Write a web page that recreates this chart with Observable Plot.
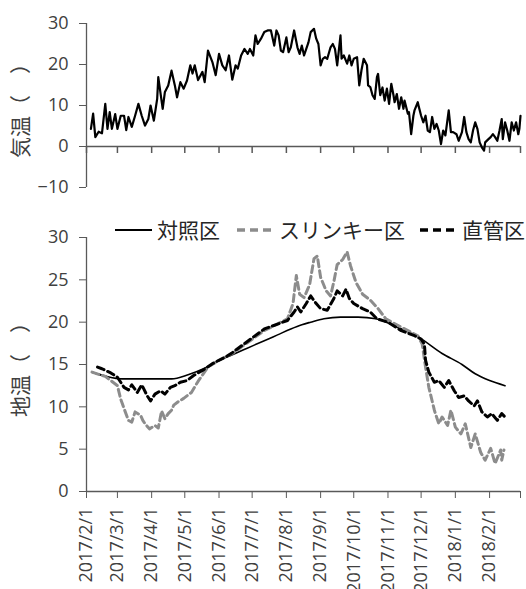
<!DOCTYPE html>
<html><head><meta charset="utf-8">
<script src="https://cdn.jsdelivr.net/npm/d3@7"></script>
<script src="https://cdn.jsdelivr.net/npm/@observablehq/plot@0.6"></script>
<style>
body{margin:0;background:#fff;font-family:"Open Sans","Noto Sans CJK JP",sans-serif;}
#wrap{position:relative;width:526px;height:589px;overflow:hidden;}
svg{display:block;}
#legend{position:absolute;top:219px;left:115px;display:flex;align-items:center;font-family:"Noto Sans CJK JP",sans-serif;font-size:21px;color:#262626;white-space:nowrap;line-height:1;}
.item{display:flex;align-items:center;}
.item span{margin-left:5px;}
[aria-label="y-axis label"] text{font-family:"Noto Sans CJK JP",sans-serif;font-size:21px;}
</style></head><body><div id="wrap"><div id="legend"></div></div>
<script>
// ---- data ----
const startDate = "2017-02-01";
const endDate = "2018-03-01";
const xTickDates = ["2017-02-01","2017-03-01","2017-04-01","2017-05-01","2017-06-01","2017-07-01","2017-08-01","2017-09-01","2017-10-01","2017-11-01","2017-12-01","2018-01-01","2018-02-01","2018-03-01"];
const xTickLabels = ["2017/2/1","2017/3/1","2017/4/1","2017/5/1","2017/6/1","2017/7/1","2017/8/1","2017/9/1","2017/10/1","2017/11/1","2017/12/1","2018/1/1","2018/2/1",""];
const seriesNames = ["対照区","スリンキー区","直管区"];
const airLabel = "気温（　）";
const soilLabel = "地温（　）";

// air temperature: day offset from startDate, value
const airDay = [4,6,8,11,14,17,19,21,23,26,28,31,34,36,38,41,44,47,50,53,56,58,61,64,65,69,71,74,77,80,82,85,88,91,94,96,98,101,105,107,110,114,117,120,123,126,129,132,135,137,140,143,146,148,151,153,155,158,161,164,167,170,172,174,176,178,181,183,185,188,191,193,195,197,199,201,203,206,208,210,212,214,216,218,221,223,225,227,230,231,233,236,238,240,242,245,247,249,251,254,255,257,259,261,263,264,266,268,270,272,274,276,278,279,281,283,285,287,288,291,292,294,296,297,300,301,303,305,307,309,311,313,315,317,319,321,323,325,328,330,332,335,337,340,342,344,346,348,350,352,354,356,358,360,361,364,366,368,370,372,374,376,377,379,381,383,385,387,389,391,392,393];
const airTemp = [4.3,8.0,2.3,3.6,3.2,10.4,4.3,8.4,4.3,7.9,4.3,7.5,7.5,4.0,7.2,4.8,7.5,10.4,7.5,5.1,6.7,10.0,6.3,11.6,16.9,9.2,13.3,14.9,18.5,14.9,12.0,15.7,14.1,16.1,19.8,17.8,19.8,16.2,18.2,15.7,23.4,20.6,17.4,22.6,19.8,18.6,22.2,16.3,19.8,19.0,22.2,23.8,22.6,23.8,22.2,27.1,25.0,26.3,27.9,28.3,28.3,24.6,28.3,27.1,23.4,23.0,26.6,23.0,24.2,28.3,24.2,22.6,24.6,22.2,23.8,25.4,27.9,28.7,26.3,25.0,19.8,21.4,21.8,21.4,24.2,25.0,23.8,19.8,27.1,21.4,22.2,20.2,22.2,19.8,21.4,21.8,14.9,18.6,21.4,19.8,14.9,14.5,12.5,11.6,16.9,17.7,12.5,14.4,11.2,14.1,10.4,15.3,12.5,10.8,12.8,9.2,12.0,9.2,11.2,8.0,8.4,3.0,7.5,8.8,10.8,9.6,7.5,5.9,7.5,3.9,3.5,7.2,4.3,5.5,3.9,0.6,3.9,2.7,8.8,3.5,3.5,3.0,1.4,3.5,7.2,3.5,1.8,1.0,3.9,5.9,4.3,1.0,-0.2,-1.0,1.0,1.8,2.3,3.0,2.3,1.4,3.9,6.7,1.8,5.9,3.9,1.4,5.9,3.9,5.9,3.0,4.3,7.5];

// soil temperature: 対照区
const ctrlDay = [5,18,32,77,92,106,116,131,145,161,173,185,195,203,215,230,246,262,280,301,322,340,352,365,379];
const ctrlTemp = [14.1,13.6,13.3,13.3,13.8,14.5,15.2,16.1,16.9,17.8,18.5,19.2,19.7,20.0,20.4,20.6,20.6,20.4,19.5,18.2,16.3,15.0,13.9,13.1,12.5];
// スリンキー区
const slinkyDay = [5,12,17,28,31,34,38,41,44,49,51,53,57,62,65,68,71,74,77,79,83,88,92,95,101,110,120,132,161,182,187,190,193,197,202,206,209,212,217,221,224,227,232,236,239,244,250,257,264,271,285,300,304,307,310,315,319,322,327,330,334,339,343,348,352,357,361,366,370,375,376,378];
const slinkyTemp = [14.1,13.8,13.6,12.5,10.9,9.8,8.4,8.2,9.4,9.0,8.4,8.0,7.4,7.8,7.5,9.5,8.6,9.2,9.6,10.2,10.6,11.0,11.4,11.7,13.0,14.7,15.5,16.3,19.0,20.4,22.2,25.5,23.3,22.9,24.4,27.5,27.8,25.3,23.7,23.1,24.8,26.8,27.4,28.3,26.7,24.7,23.3,22.6,21.6,20.4,19.4,18.4,17.4,14.7,12.3,9.6,8.0,8.8,7.8,9.6,7.6,6.8,8.0,5.2,6.8,4.6,3.7,5.1,3.3,4.9,3.7,4.9];
// 直管区
const pipeDay = [10,14,22,28,34,38,41,46,50,55,58,62,67,71,76,80,85,91,97,105,114,126,132,161,182,188,191,194,199,203,208,212,218,224,227,232,235,238,242,250,257,263,273,285,297,303,306,307,310,315,319,324,328,333,337,342,346,351,354,358,363,367,372,376,379];
const pipeTemp = [14.7,14.5,14.0,13.5,12.3,12.0,12.6,11.7,12.6,11.3,10.7,11.5,11.9,11.5,12.3,12.5,12.9,13.1,13.7,14.3,15.1,15.9,16.4,19.2,20.2,21.2,21.8,21.2,22.2,23.1,22.2,21.6,21.4,22.8,23.7,23.1,23.9,22.8,22.2,21.6,21.2,20.4,20.0,19.0,18.4,18.0,17.4,15.5,14.1,12.9,13.1,12.3,13.1,11.9,11.1,11.3,10.7,10.1,10.7,9.4,8.8,9.2,8.4,9.2,8.8];

// ---- build ----
const t0 = new Date(startDate + "T00:00:00Z");
const toRows = (days, vals) => days.map((d, i) => ({date: d3.utcDay.offset(t0, d), value: vals[i]}));
const air = toRows(airDay, airTemp);
const ctrl = toRows(ctrlDay, ctrlTemp);
const slinky = toRows(slinkyDay, slinkyTemp);
const pipe = toRows(pipeDay, pipeTemp);
const monthTicks = xTickDates.map(s => new Date(s + "T00:00:00Z"));
const labelMap = new Map(monthTicks.map((t, i) => [+t, xTickLabels[i]]));
const xDomain = [t0, new Date(endDate + "T00:00:00Z")];

const axisColor = "#595959";
const textColor = "#404040";
const W = 526, ML = 86, MR = 6;
const baseStyle = {fontFamily: '"Open Sans","Noto Sans CJK JP",sans-serif', fontSize: "18px", color: textColor, background: "transparent", overflow: "visible"};

const airChart = Plot.plot({
  width: W, height: 205, marginLeft: ML, marginRight: MR, marginTop: 23, marginBottom: 18,
  style: baseStyle,
  x: {type: "utc", domain: xDomain, axis: null},
  y: {domain: [-10, 30]},
  marks: [
    Plot.ruleX([t0], {stroke: axisColor, strokeWidth: 1.3}),
    Plot.ruleY([0], {stroke: axisColor, strokeWidth: 1.3}),
    // 7px downward month ticks on the zero line
    Plot.ruleX(monthTicks, {x: d => d, y1: 0, y2: 0, insetTop: 7, stroke: axisColor, strokeWidth: 1.5}),
    Plot.axisY({ticks: [-10, 0, 10, 20, 30], tickSize: 7, tickPadding: 11, stroke: axisColor, label: airLabel, labelAnchor: "center", labelArrow: "none", labelOffset: 73}),
    Plot.line(air, {x: "date", y: "value", stroke: "#000", strokeWidth: 2.2, strokeLinejoin: "round"})
  ]
});

const soilChart = Plot.plot({
  width: W, height: 384, marginLeft: ML, marginRight: MR, marginTop: 32, marginBottom: 98,
  style: baseStyle,
  x: {type: "utc", domain: xDomain},
  y: {domain: [0, 30]},
  marks: [
    Plot.ruleX([t0], {stroke: axisColor, strokeWidth: 1.3}),
    Plot.ruleY([0], {stroke: axisColor, strokeWidth: 1.3}),
    Plot.axisY({ticks: [0, 5, 10, 15, 20, 25, 30], tickSize: 7, tickPadding: 11, stroke: axisColor, label: soilLabel, labelAnchor: "center", labelArrow: "none", labelOffset: 73}),
    Plot.axisX({ticks: monthTicks, tickSize: 7, tickPadding: 9, tickRotate: -90, stroke: axisColor, tickFormat: d => labelMap.get(+d) ?? "", label: null}),
    Plot.line(ctrl, {x: "date", y: "value", stroke: "#000", strokeWidth: 1.6, curve: "monotone-x"}),
    Plot.line(slinky, {x: "date", y: "value", stroke: "#8c8c8c", strokeWidth: 3, strokeDasharray: "7,4"}),
    Plot.line(pipe, {x: "date", y: "value", stroke: "#000", strokeWidth: 3, strokeDasharray: "7,4"})
  ]
});

const wrap = document.getElementById("wrap");
wrap.insertBefore(airChart, wrap.firstChild);
wrap.insertBefore(soilChart, document.getElementById("legend"));

// legend
const legendItems = [
  {name: seriesNames[0], stroke: "#000", dash: null, w: 2, gap: 0},
  {name: seriesNames[1], stroke: "#8c8c8c", dash: "8,5", w: 3.5, gap: 17},
  {name: seriesNames[2], stroke: "#000", dash: "8,5", w: 3.5, gap: 15}
];
const leg = d3.select("#legend");
legendItems.forEach(it => {
  const item = leg.append("div").attr("class", "item").style("margin-left", it.gap + "px");
  const s = item.append("svg").attr("width", 37).attr("height", 8);
  s.append("line").attr("x1", 0).attr("x2", 37).attr("y1", 4).attr("y2", 4)
    .attr("stroke", it.stroke).attr("stroke-width", it.w).attr("stroke-dasharray", it.dash);
  item.append("span").text(it.name);
});
</script></body></html>
